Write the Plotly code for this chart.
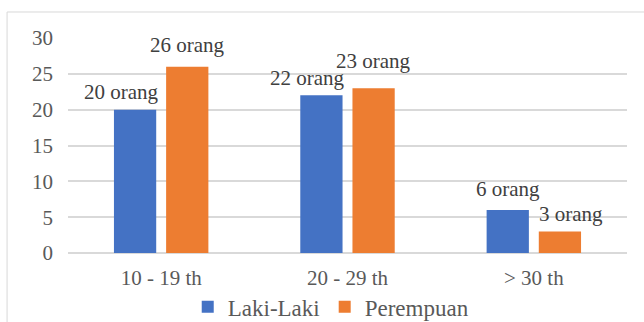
import plotly.graph_objects as go

categories = ["10 - 19 th", "20 - 29 th", "> 30 th"]
laki = [20, 22, 6]
perempuan = [26, 23, 3]
series_names = ["Laki-Laki", "Perempuan"]
label_suffix = " orang"

colors = ["#4472C4", "#ED7D31"]
# label placement (style): pixel offsets of each data label relative to its bar top/centre
label_dx = [[-14, -14, 0], [0, 0, 11]]
label_dy = [[18, 17, 21], [22, 27, 18]]
bar_offset = [-26, 26]

FONT = "Times New Roman"

fig = go.Figure()
for i, vals in enumerate([laki, perempuan]):
    fig.add_trace(go.Bar(
        x=categories, y=vals, name=series_names[i],
        marker=dict(color=colors[i], line=dict(width=0)),
    ))

annotations = []
for i, vals in enumerate([laki, perempuan]):
    for j, v in enumerate(vals):
        annotations.append(dict(
            x=categories[j], y=v, xref="x", yref="y",
            text=f"{v}{label_suffix}", showarrow=False,
            xanchor="center", yanchor="middle",
            xshift=bar_offset[i] + label_dx[i][j], yshift=label_dy[i][j],
            font=dict(family=FONT, size=21, color="#404040"),
        ))

fig.update_layout(
    width=644, height=322,
    margin=dict(l=68, r=17, t=38, b=69, autoexpand=False),
    paper_bgcolor="white", plot_bgcolor="white",
    barmode="group", bargap=0.44, bargroupgap=0.19,
    showlegend=True,
    legend=dict(orientation="h", x=0.47, xanchor="center", y=-0.25, yanchor="middle",
                font=dict(family=FONT, size=23, color="#595959"),
                itemwidth=30, tracegroupgap=0, bgcolor="rgba(0,0,0,0)"),
    annotations=annotations,
    font=dict(family=FONT, size=21, color="#595959"),
    xaxis=dict(showgrid=False, showline=False, ticks="", automargin=False, ticklabelstandoff=10,
               tickfont=dict(family=FONT, size=21, color="#595959")),
    yaxis=dict(range=[0, 30], dtick=5, showgrid=True, gridcolor="#d9d9d9", gridwidth=2,
               zeroline=True, zerolinecolor="#d9d9d9", zerolinewidth=2, automargin=False,
               showline=False, ticks="", ticklabelstandoff=14,
               tickfont=dict(family=FONT, size=21, color="#595959")),
    shapes=[dict(type="rect", xref="paper", yref="paper", x0=-0.109, x1=1.2, y0=-0.6, y1=1.121,
                 line=dict(color="#d9d9d9", width=1), fillcolor="rgba(0,0,0,0)", layer="below")],
)

fig.write_html("out.html")
